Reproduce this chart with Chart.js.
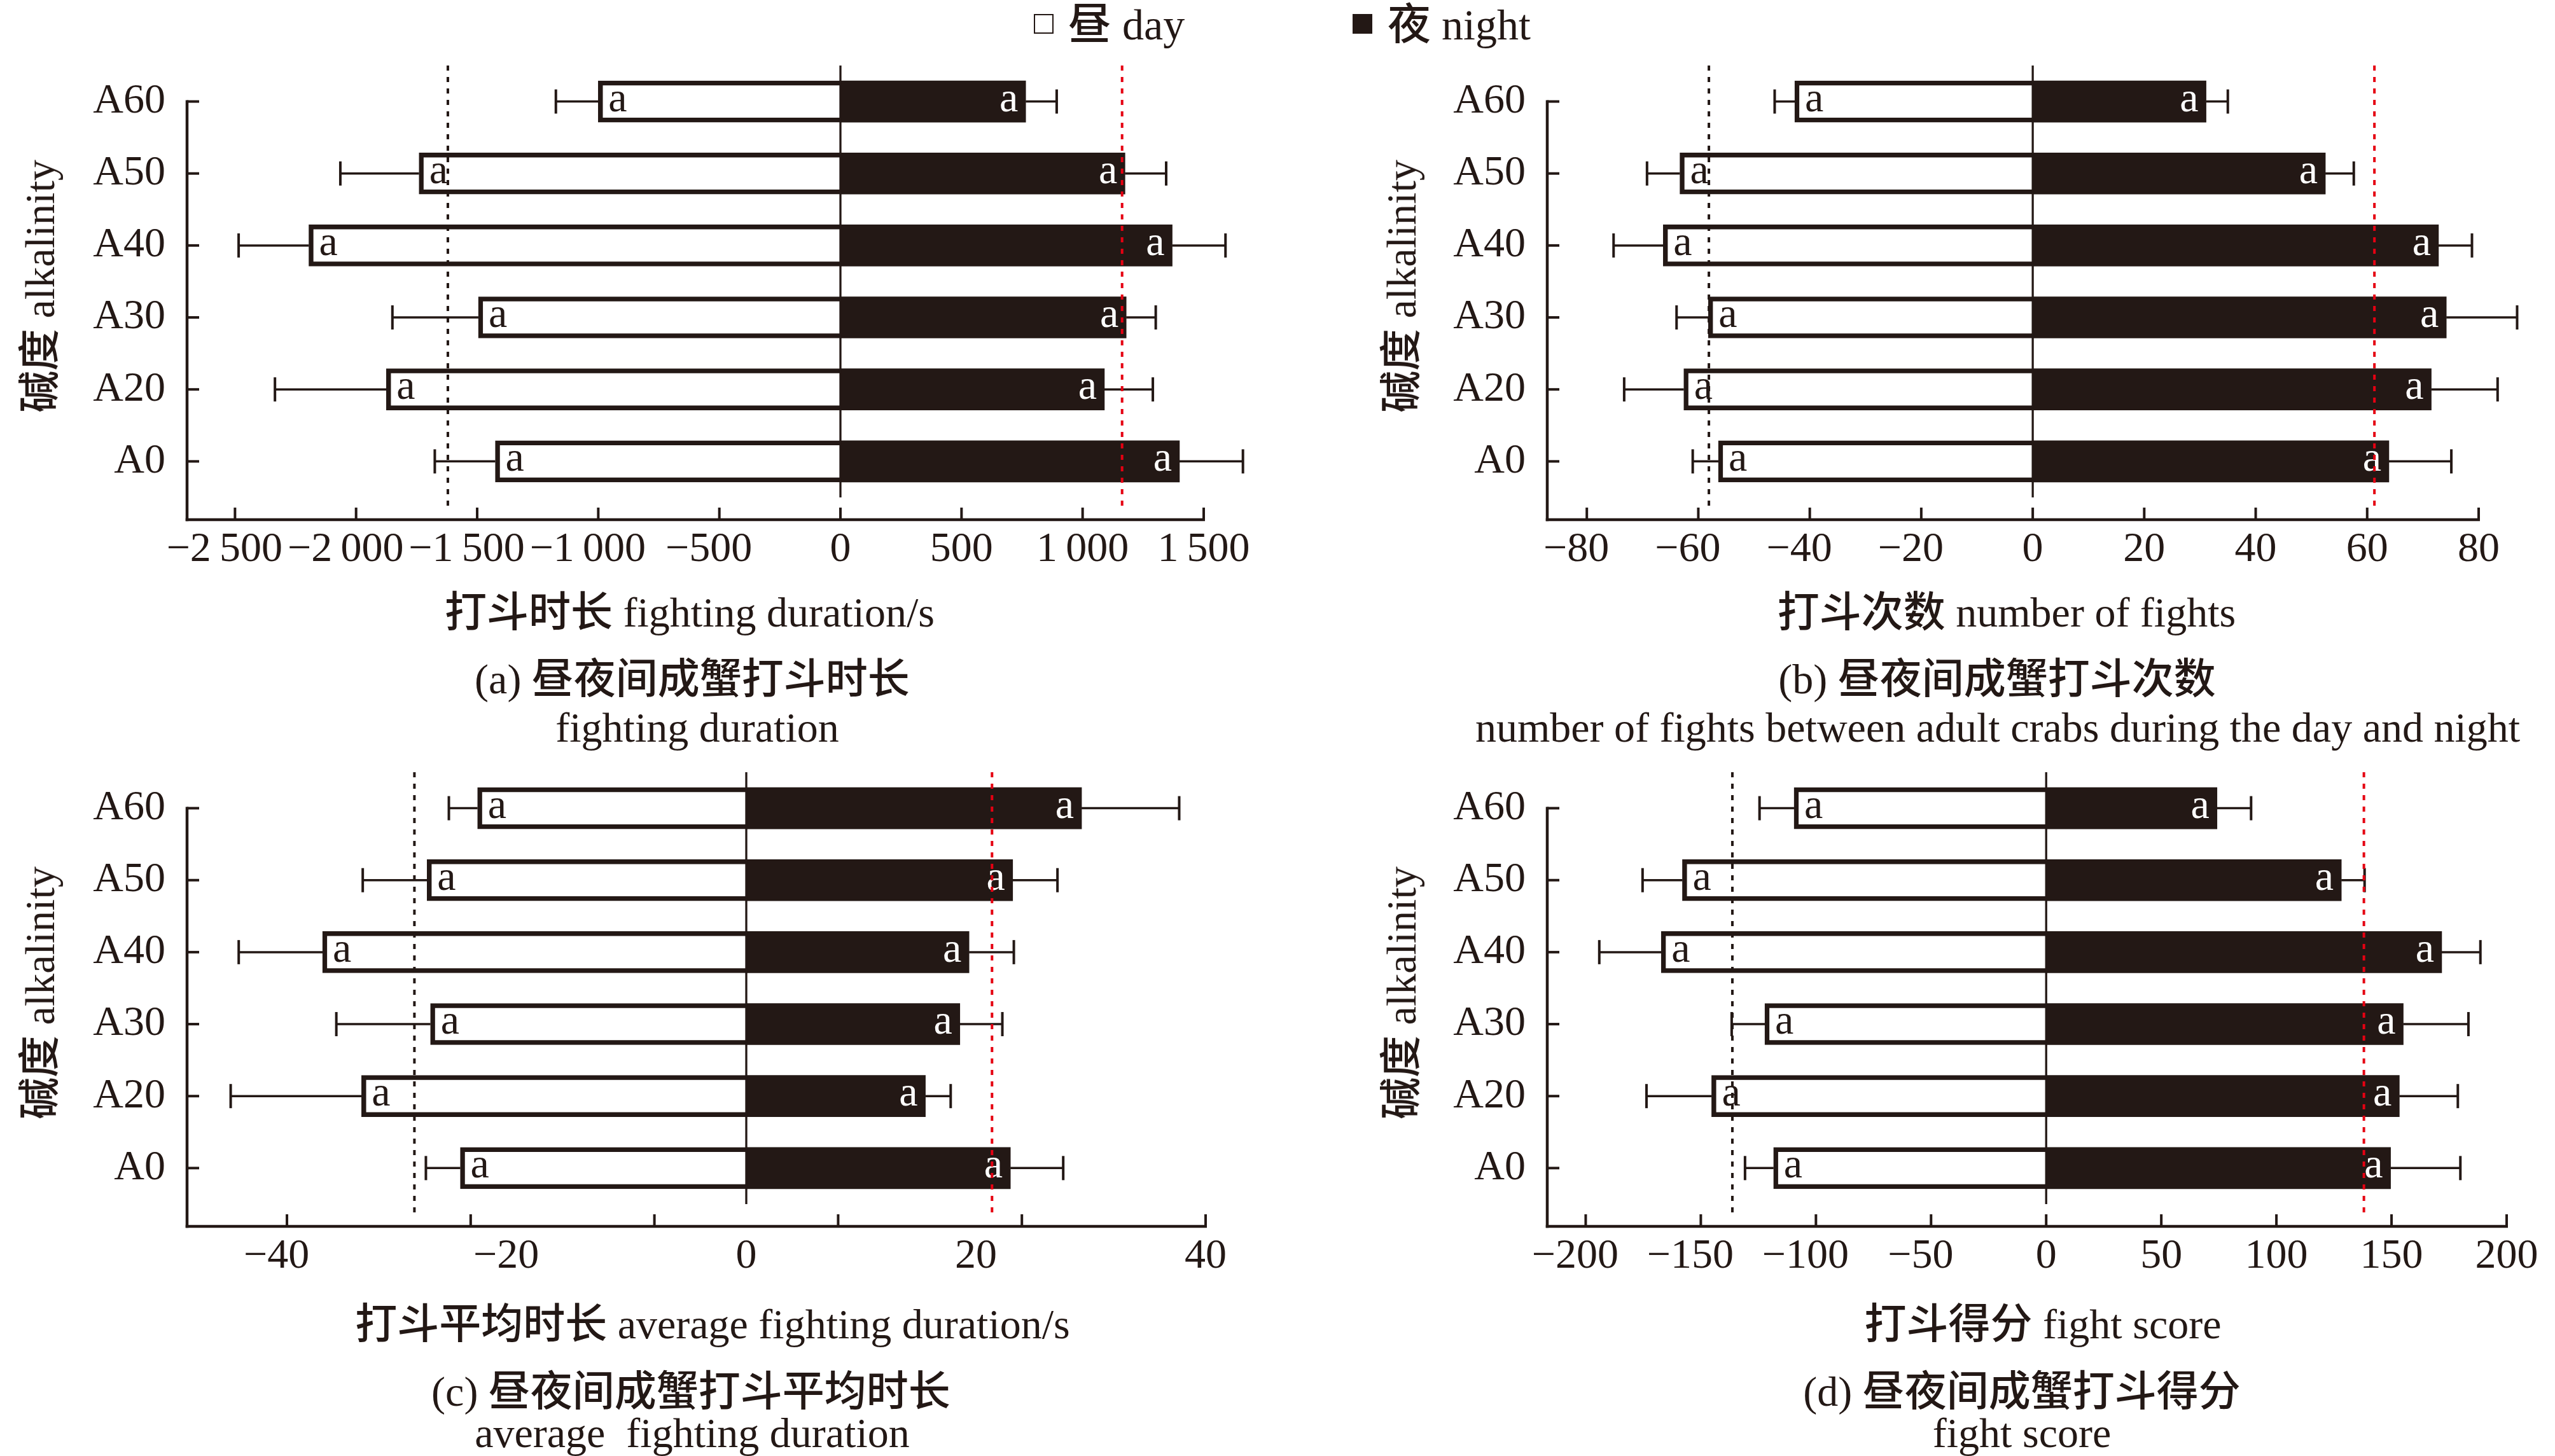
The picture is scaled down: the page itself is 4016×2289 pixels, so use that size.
<!DOCTYPE html>
<html lang="zh">
<head>
  <meta charset="UTF-8">
  <title>昼夜间成蟹打斗</title>
  <script src="https://cdn.jsdelivr.net/npm/chart.js@4.4.1/dist/chart.umd.min.js"></script>
  <style>
    html, body { margin: 0; padding: 0; background: #fff; }
    .page {
      position: relative;
      width: 4016px;
      height: 2289px;
      overflow: hidden;
      color: #231815;
      font-family: 'Liberation Serif', 'Noto Sans CJK SC', serif;
    }
    .page canvas { position: absolute; }
    .t {
      position: absolute;
      font-size: 66px;
      font-weight: 500;
      line-height: 1;
      white-space: pre;
      transform: translate(-50%, -50%);
      z-index: 2;
    }
    .yt { transform: translate(-50%, -50%) rotate(-90deg); }
    .sw {
      position: absolute;
      top: 22px;
      width: 31px;
      height: 31px;
      box-sizing: border-box;
      border: 2.5px solid #231815;
      background: #fff;
    }
    .sw.fill { background: #231815; }
    .lg {
      position: absolute;
      top: 5px;
      font-size: 68px;
      font-weight: 500;
      line-height: 1;
      white-space: pre;
    }
  </style>
</head>
<body>
<div class="page" id="page">
  <div class="sw" style="left:1625px"></div>
  <div class="lg" style="left:1679px">昼 day</div>
  <div class="sw fill" style="left:2126px"></div>
  <div class="lg" style="left:2181px">夜 night</div>

  <div class="t yt" style="left:63px;top:450px">碱度 alkalinity</div>
  <div class="t yt" style="left:2203px;top:450px">碱度 alkalinity</div>
  <div class="t yt" style="left:63px;top:1561px">碱度 alkalinity</div>
  <div class="t yt" style="left:2203px;top:1561px">碱度 alkalinity</div>

  <div class="t" style="left:1084px;top:963px">打斗时长 fighting duration/s</div>
  <div class="t" style="left:1088px;top:1068px">(a) 昼夜间成蟹打斗时长</div>
  <div class="t" style="left:1096px;top:1144px">fighting duration</div>

  <div class="t" style="left:3154px;top:963px">打斗次数 number of fights</div>
  <div class="t" style="left:3139px;top:1068px">(b) 昼夜间成蟹打斗次数</div>
  <div class="t" style="left:3140px;top:1144px">number of fights between adult crabs during the day and night</div>

  <div class="t" style="left:1120px;top:2082px">打斗平均时长 average fighting duration/s</div>
  <div class="t" style="left:1086px;top:2188px">(c) 昼夜间成蟹打斗平均时长</div>
  <div class="t" style="left:1088px;top:2253px">average  fighting duration</div>

  <div class="t" style="left:3211px;top:2082px">打斗得分 fight score</div>
  <div class="t" style="left:3178px;top:2188px">(d) 昼夜间成蟹打斗得分</div>
  <div class="t" style="left:3178px;top:2253px">fight score</div>
</div>

<script>
  var INK = '#231815';
  var RED = '#e50012';
  var FONT = "'Liberation Serif', 'Noto Sans CJK SC', serif";

  var categories = ['A0', 'A20', 'A30', 'A40', 'A50', 'A60'];

  // (a) fighting duration, s  (day drawn to the left)
  var durationDay = [-1425, -1875, -1495, -2195, -1740, -1000];
  var durationDayErr = [250, 460, 355, 290, 325, 175];
  var durationNight = [1400, 1090, 1180, 1370, 1175, 765];
  var durationNightErr = [262, 200, 122, 220, 170, 128];
  var durationMeans = [-1621, 1163];
  var durationTicks = [-2500, -2000, -1500, -1000, -500, 0, 500, 1000, 1500];

  // (b) number of fights
  var fightsDay = [-56.4, -62.6, -58.2, -66.3, -63.3, -42.7];
  var fightsDayErr = [4.6, 10.7, 5.7, 8.9, 5.9, 3.6];
  var fightsNight = [63.9, 71.5, 74.2, 72.8, 52.5, 31.1];
  var fightsNightErr = [11.2, 11.9, 12.7, 6.0, 5.1, 3.9];
  var fightsMeans = [-58.1, 61.3];
  var fightsTicks = [-80, -60, -40, -20, 0, 20, 40, 60, 80];

  // (c) average fighting duration, s
  var avgDay = [-24.9, -33.5, -27.5, -36.9, -27.8, -23.4];
  var avgDayErr = [3.0, 11.4, 8.2, 7.3, 5.6, 2.5];
  var avgNight = [23.0, 15.6, 18.6, 19.4, 23.2, 29.2];
  var avgNightErr = [4.6, 2.2, 3.7, 3.9, 3.9, 8.5];
  var avgMeans = [-28.9, 21.4];
  var avgTicks = [-40, -20, 0, 20, 40];
  var avgTickMarks = [-40, -24, -8, 8, 24, 40];

  // (d) fight score
  var scoreDay = [-118.4, -145.3, -122.2, -167.2, -158.0, -109.5];
  var scoreDayErr = [12.4, 28.3, 14.4, 26.9, 17.3, 15.0];
  var scoreNight = [149.6, 153.4, 155.1, 171.8, 128.2, 74.2];
  var scoreNightErr = [30.3, 25.4, 28.3, 16.8, 10.1, 14.8];
  var scoreMeans = [-136.3, 138.0];
  var scoreTicks = [-200, -150, -100, -50, 0, 50, 100, 150, 200];

  var panels = [
    { day: durationDay, dayErr: durationDayErr, night: durationNight, nightErr: durationNightErr,
      means: durationMeans, ticks: durationTicks, marks: durationTicks, min: -2698, max: 1500, group: true,
      left: 0, top: 0, width: 2060, axisX: 294, rightX: 1892 },
    { day: fightsDay, dayErr: fightsDayErr, night: fightsNight, nightErr: fightsNightErr,
      means: fightsMeans, ticks: fightsTicks, marks: fightsTicks, min: -87.1, max: 80, group: false,
      left: 2140, top: 0, width: 1876, axisX: 2432, rightX: 3896 },
    { day: avgDay, dayErr: avgDayErr, night: avgNight, nightErr: avgNightErr,
      means: avgMeans, ticks: avgTicks, marks: avgTickMarks, min: -48.7, max: 40, group: false,
      left: 0, top: 1111, width: 2060, axisX: 294, rightX: 1895 },
    { day: scoreDay, dayErr: scoreDayErr, night: scoreNight, nightErr: scoreNightErr,
      means: scoreMeans, ticks: scoreTicks, marks: scoreTicks, min: -216.7, max: 200, group: false,
      left: 2140, top: 1111, width: 1876, axisX: 2432, rightX: 3940 }
  ];

  function tickText(v, group) {
    var s = String(Math.abs(v));
    if (group && s.length > 3) s = s.slice(0, -3) + '\u2009' + s.slice(-3);
    // digits sit centred on the tick, the minus hangs to the left
    return v < 0 ? '\u2212' + s + '\u2002' : s;
  }

  function seg(ctx, x1, y1, x2, y2, w, c) {
    ctx.beginPath();
    ctx.lineWidth = w;
    ctx.strokeStyle = c;
    ctx.moveTo(x1, y1);
    ctx.lineTo(x2, y2);
    ctx.stroke();
  }

  var decor = {
    id: 'decor',
    afterDatasetsDraw: function (chart, args, o) {
      var ctx = chart.ctx, a = chart.chartArea, xs = chart.scales.x, ys = chart.scales.y;
      var x0 = xs.getPixelForValue(0);
      ctx.save();
      ctx.lineCap = 'butt';

      // error bars + letters
      chart.data.datasets.forEach(function (ds, di) {
        chart.getDatasetMeta(di).data.forEach(function (bar, i) {
          var v = ds.data[i].x, e = ds.errors[i];
          var xe = xs.getPixelForValue(v < 0 ? v - e : v + e);
          seg(ctx, bar.x, bar.y, xe, bar.y, 3.5, INK);
          seg(ctx, xe, bar.y - 19, xe, bar.y + 19, 4, INK);
          ctx.font = '66px ' + FONT;
          ctx.textBaseline = 'alphabetic';
          if (v < 0) {
            ctx.fillStyle = INK;
            ctx.textAlign = 'left';
            ctx.fillText('a', bar.x + 16, bar.y + 15);
          } else {
            ctx.fillStyle = '#fff';
            ctx.textAlign = 'right';
            ctx.fillText('a', bar.x - 12, bar.y + 15);
          }
        });
      });

      // zero line
      seg(ctx, x0, a.top, x0, a.bottom - 35, 3.3, INK);

      // day / night mean lines
      ctx.setLineDash([8, 10]);
      var xm = xs.getPixelForValue(o.means[0]);
      seg(ctx, xm, a.top, xm, a.bottom - 20, 4, INK);
      xm = xs.getPixelForValue(o.means[1]);
      seg(ctx, xm, a.top, xm, a.bottom - 20, 4, RED);
      ctx.setLineDash([]);

      // axes with inward ticks
      var yTop = ys.getPixelForValue(categories.length - 1) - 2;
      seg(ctx, a.left, yTop, a.left, a.bottom + 2.25, 4.5, INK);
      seg(ctx, a.left - 2.25, a.bottom, a.right + 2, a.bottom, 4.5, INK);
      categories.forEach(function (c, i) {
        var y = ys.getPixelForValue(i);
        seg(ctx, a.left, y, a.left + 19, y, 4, INK);
      });
      o.marks.forEach(function (v) {
        var x = xs.getPixelForValue(v);
        seg(ctx, x, a.bottom, x, a.bottom - 19, 4, INK);
      });
      ctx.restore();
    }
  };

  var page = document.getElementById('page');

  panels.forEach(function (p) {
    var canvas = document.createElement('canvas');
    canvas.width = p.width;
    canvas.height = 940;
    canvas.style.left = p.left + 'px';
    canvas.style.top = p.top + 'px';
    page.appendChild(canvas);

    var tickFont = { family: FONT, size: 66 };

    new Chart(canvas, {
      type: 'bar',
      data: {
        datasets: [
          {
            label: '昼 day',
            data: p.day.map(function (v, i) { return { x: v, y: i }; }),
            errors: p.dayErr,
            backgroundColor: '#fff',
            borderColor: INK,
            borderWidth: 7.5,
            borderSkipped: 'start',
            barThickness: 65,
            stack: 'dn'
          },
          {
            label: '夜 night',
            data: p.night.map(function (v, i) { return { x: v, y: i }; }),
            errors: p.nightErr,
            backgroundColor: INK,
            borderWidth: 0,
            barThickness: 65,
            stack: 'dn'
          }
        ]
      },
      options: {
        indexAxis: 'y',
        responsive: false,
        animation: false,
        devicePixelRatio: 1,
        layout: { padding: { left: 0, top: 103, right: p.left + p.width - p.rightX, bottom: 0 } },
        plugins: {
          legend: { display: false },
          tooltip: { enabled: false },
          decor: { means: p.means, marks: p.marks }
        },
        scales: {
          x: {
            type: 'linear',
            min: p.min,
            max: p.max,
            offset: false,
            grid: { display: false, drawTicks: false },
            border: { display: false },
            afterBuildTicks: function (s) { s.ticks = p.ticks.map(function (v) { return { value: v }; }); },
            afterFit: function (s) { s.height = 123; },
            ticks: {
              padding: 8,
              autoSkip: false,
              maxRotation: 0,
              color: INK,
              font: tickFont,
              callback: function (v) { return tickText(v, p.group); }
            }
          },
          y: {
            type: 'linear',
            min: -0.81,
            max: 5.5,
            offset: false,
            stacked: true,
            grid: { display: false, drawTicks: false, offset: false },
            border: { display: false },
            afterBuildTicks: function (s) { s.ticks = categories.map(function (c, i) { return { value: i }; }); },
            afterFit: function (s) { s.width = p.axisX - p.left; },
            ticks: {
              padding: 34,
              autoSkip: false,
              color: INK,
              font: tickFont,
              callback: function (v) { return categories[v]; }
            }
          }
        }
      },
      plugins: [decor]
    });
  });
</script>
</body>
</html>
